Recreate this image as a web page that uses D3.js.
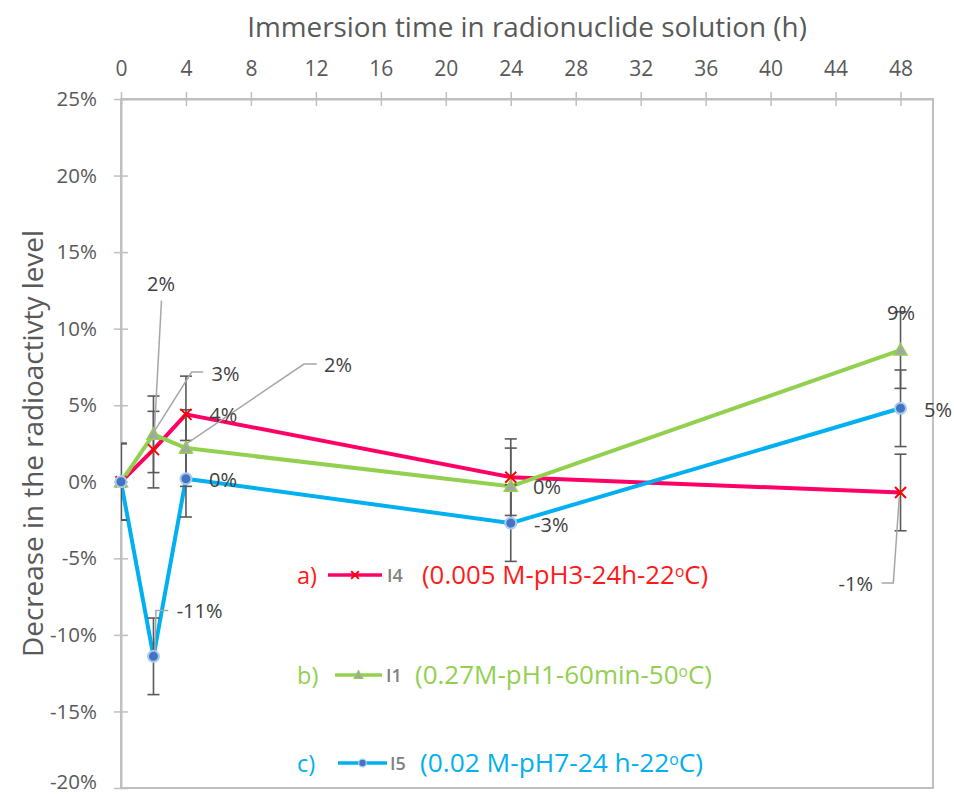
<!DOCTYPE html>
<html><head><meta charset="utf-8">
<script src="https://cdn.jsdelivr.net/npm/d3@7"></script>
<style>
body{margin:0;background:#fff}
svg{display:block}
text{font-family:"Open Sans","Noto Sans",sans-serif}
</style>
</head><body>
<svg id="chart" width="954" height="794"></svg>
<script>
// ---------------- DATA ----------------
const hours = [0, 2, 4, 24, 48];
const valuesI4 = [0, 2.1, 4.4, 0.3, -0.7];
const valuesI1 = [0, 3.1, 2.2, -0.3, 8.6];
const valuesI5 = [0, -11.4, 0.2, -2.7, 4.8];
const errorsI4 = [2.5, 2.5, 2.5, 2.5, 2.5];
const errorsI1 = [2.5, 2.5, 2.5, 2.5, 2.5];
const errorsI5 = [2.5, 2.5, 2.5, 2.5, 2.5];
const xTicks = [0, 4, 8, 12, 16, 20, 24, 28, 32, 36, 40, 44, 48];
const yTicks = [-20, -15, -10, -5, 0, 5, 10, 15, 20, 25];
const xTitle = "Immersion time in radionuclide solution (h)";
const yTitle = "Decrease in the radioactivty level";
const legendLetters = ["a)", "b)", "c)"];
const legendNames = ["I4", "I1", "I5"];
const legendConditions = ["(0.005 M-pH3-24h-22°C)", "(0.27M-pH1-60min-50°C)", "(0.02 M-pH7-24 h-22°C)"];

// ---------------- LAYOUT ----------------
const P = {left: 121, right: 933, top: 99, bottom: 788};
const svg = d3.select("#chart");
const x = d3.scaleLinear().domain([0, 50]).range([P.left, P.right]);
const y = d3.scaleLinear().domain([-20, 25]).range([P.bottom, P.top]);
const textCol = "#595959", axisCol = "#bfbfbf";

function fit(sel, target) {
  const w = sel.node().getComputedTextLength();
  const fs = parseFloat(sel.attr("font-size"));
  sel.attr("font-size", (fs * target / w).toFixed(2));
}

// plot border
svg.append("rect").attr("x", P.left).attr("y", P.top)
  .attr("width", P.right - P.left).attr("height", P.bottom - P.top)
  .attr("fill", "none").attr("stroke", axisCol).attr("stroke-width", 2);

// top axis
const gx = svg.append("g").attr("transform", `translate(0,${P.top})`)
  .call(d3.axisTop(x).tickValues(xTicks).tickSize(0).tickPadding(23).tickSizeOuter(0));
gx.select(".domain").attr("stroke", axisCol).attr("stroke-width", 2);
gx.selectAll(".tick line").attr("y1", -7).attr("y2", 7).attr("stroke", axisCol).attr("stroke-width", 1.5);
gx.selectAll(".tick text").attr("fill", textCol).attr("font-size", 21)
  .style("font-family", '"Open Sans",sans-serif');

// left axis
const gy = svg.append("g").attr("transform", `translate(${P.left},0)`)
  .call(d3.axisLeft(y).tickValues(yTicks).tickFormat(d => d + "%").tickSize(0).tickPadding(24).tickSizeOuter(0));
gy.select(".domain").attr("stroke", axisCol).attr("stroke-width", 2);
gy.selectAll(".tick line").attr("x1", -7).attr("x2", 7).attr("stroke", axisCol).attr("stroke-width", 1.5);
gy.selectAll(".tick text").attr("fill", textCol).attr("font-size", 20.5)
  .style("font-family", '"Open Sans",sans-serif');
// keep the lowest label inside the picture
gy.selectAll(".tick text").filter(d => d === -20).attr("dy", "0em");

// titles
const xt = svg.append("text").attr("x", (P.left + P.right) / 2).attr("y", 37)
  .attr("text-anchor", "middle").attr("fill", textCol).attr("font-size", 27).text(xTitle);
fit(xt, 560);
const yt = svg.append("text").attr("transform", `translate(43,${(P.top + P.bottom) / 2}) rotate(-90)`)
  .attr("text-anchor", "middle").attr("fill", textCol).attr("font-size", 27).text(yTitle);
fit(yt, 427);

// ---------------- SERIES ----------------
const series = [
  {name: "I4", values: valuesI4, errors: errorsI4, line: "#ff0066", marker: "x"},
  {name: "I1", values: valuesI1, errors: errorsI1, line: "#92d050", marker: "tri"},
  {name: "I5", values: valuesI5, errors: errorsI5, line: "#00b0f0", marker: "dot"}
];

svg.append("clipPath").attr("id", "clip").append("rect")
  .attr("x", P.left).attr("y", P.top).attr("width", P.right - P.left).attr("height", P.bottom - P.top);
const plot = svg.append("g").attr("clip-path", "url(#clip)");

const line = d3.line().x(d => x(d[0])).y(d => y(d[1]));
series.forEach(s => {
  plot.append("path").datum(hours.map((h, i) => [h, s.values[i]]))
    .attr("d", line).attr("fill", "none").attr("stroke", s.line)
    .attr("stroke-width", 4).attr("stroke-linejoin", "round");
});

// error bars
series.forEach(s => {
  const g = plot.append("g").attr("stroke", "#595959").attr("stroke-width", 1.6);
  hours.forEach((h, i) => {
    const cx = x(h), hi = y(s.values[i] + s.errors[i]), lo = y(s.values[i] - s.errors[i]);
    g.append("line").attr("x1", cx).attr("x2", cx).attr("y1", hi).attr("y2", lo);
    g.append("line").attr("x1", cx - 6).attr("x2", cx + 6).attr("y1", hi).attr("y2", hi);
    g.append("line").attr("x1", cx - 6).attr("x2", cx + 6).attr("y1", lo).attr("y2", lo);
  });
});

function drawMarker(g, type, cx, cy, scale) {
  const k = scale || 1;
  if (type === "x") {
    g.append("path").attr("d", `M${cx - 5.5 * k},${cy - 5.5 * k}L${cx + 5.5 * k},${cy + 5.5 * k}M${cx - 5.5 * k},${cy + 5.5 * k}L${cx + 5.5 * k},${cy - 5.5 * k}`)
      .attr("stroke", "#ff0000").attr("stroke-width", 2).attr("fill", "none");
  } else if (type === "tri") {
    g.append("path").attr("d", `M${cx},${cy - 6.5 * k}L${cx + 6.5 * k},${cy + 5 * k}L${cx - 6.5 * k},${cy + 5 * k}Z`)
      .attr("fill", "#a5a5a5").attr("stroke", "#92d050").attr("stroke-width", 1.5 * k);
  } else {
    g.append("circle").attr("cx", cx).attr("cy", cy).attr("r", 5.5 * k)
      .attr("fill", "#4472c4").attr("stroke", "#a9cbee").attr("stroke-width", 2 * k);
  }
}
const mg = svg.append("g");
series.forEach(s => {
  hours.forEach((h, i) => drawMarker(mg, s.marker, x(h), y(s.values[i])));
});

// ---------------- DATA LABELS ----------------
const pct = v => { const r = Math.round(v); return (r === 0 ? 0 : r) + "%"; };
// label placements: [series, point index, anchor, dx, dy, leader offsets]
const labelPlacements = [
  ["I4", 1, "middle", 7.5, -166, [[8, -149], [1, -20]]],
  ["I1", 1, "start", 58, -60.5, [[49.8, -62.2], [38.2, -62.2], [0.8, -3]]],
  ["I1", 2, "start", 138, -83, [[130.7, -84], [118, -84], [0, -4]]],
  ["I4", 2, "start", 23.3, 1, null],
  ["I5", 2, "start", 23, 1.6, null],
  ["I5", 1, "start", 23.2, -45.6, [[14.8, -45.9], [2.5, -45.9], [1.5, -5]]],
  ["I1", 3, "start", 22.3, 0.4, null],
  ["I5", 3, "start", 23.3, 1.6, null],
  ["I1", 4, "middle", 0.5, -37.3, null],
  ["I5", 4, "start", 23.5, 2, null],
  ["I4", 4, "end", -27.5, 91.3, [[-18.8, 90.6], [-7.2, 90.6], [-1.2, 4]]]
];
const lg = svg.append("g");
labelPlacements.forEach(([name, i, anchor, dx, dy, leader]) => {
  const s = series.find(d => d.name === name);
  const px = x(hours[i]), py = y(s.values[i]);
  if (leader) {
    lg.append("path").attr("d", "M" + leader.map(o => [px + o[0], py + o[1]].join(",")).join("L"))
      .attr("fill", "none").attr("stroke", "#a6a6a6").attr("stroke-width", 1.5);
  }
  lg.append("text").attr("x", px + dx).attr("y", py + dy + 7).attr("text-anchor", anchor)
    .attr("font-size", 20).attr("fill", "#404040").text(pct(s.values[i]));
});

// ---------------- LEGEND ----------------
const legendColors = ["#ff1a1a", "#92d050", "#00b0f0"];
const legendRows = [575, 675, 763];
const legendLine = [[328, 382], [335, 382], [338, 387]];
const legendNameX = [387, 386, 390];
const legendTextX = [422, 415, 420];
const legendTextW = [286, 297, 283];
const leg = svg.append("g");
series.forEach((s, k) => {
  const cy = legendRows[k];
  leg.append("text").attr("x", 297).attr("y", cy + 8.5).attr("font-size", 23.5)
    .attr("fill", legendColors[k]).text(legendLetters[k]);
  const [l0, l1] = legendLine[k];
  leg.append("line").attr("x1", l0).attr("x2", l1).attr("y1", cy).attr("y2", cy)
    .attr("stroke", s.line).attr("stroke-width", 3.5);
  drawMarker(leg, s.marker, (l0 + l1) / 2, cy, 0.7);
  leg.append("text").attr("x", legendNameX[k]).attr("y", cy + 7).attr("font-size", 18)
    .attr("font-weight", 600).attr("fill", "#808080").text(legendNames[k]);
  const parts = legendConditions[k].split("°");
  const t = leg.append("text").attr("x", legendTextX[k]).attr("y", cy + 8.5).attr("font-size", 22)
    .attr("fill", legendColors[k]);
  t.append("tspan").text(parts[0]);
  t.append("tspan").attr("font-size", 13).attr("dy", -7).text("o");
  t.append("tspan").attr("dy", 7).text(parts[1]);
  fit(t, legendTextW[k]);
  t.select("tspan:nth-child(2)").attr("font-size", parseFloat(t.attr("font-size")) * 0.6);
});
</script>
</body></html>
